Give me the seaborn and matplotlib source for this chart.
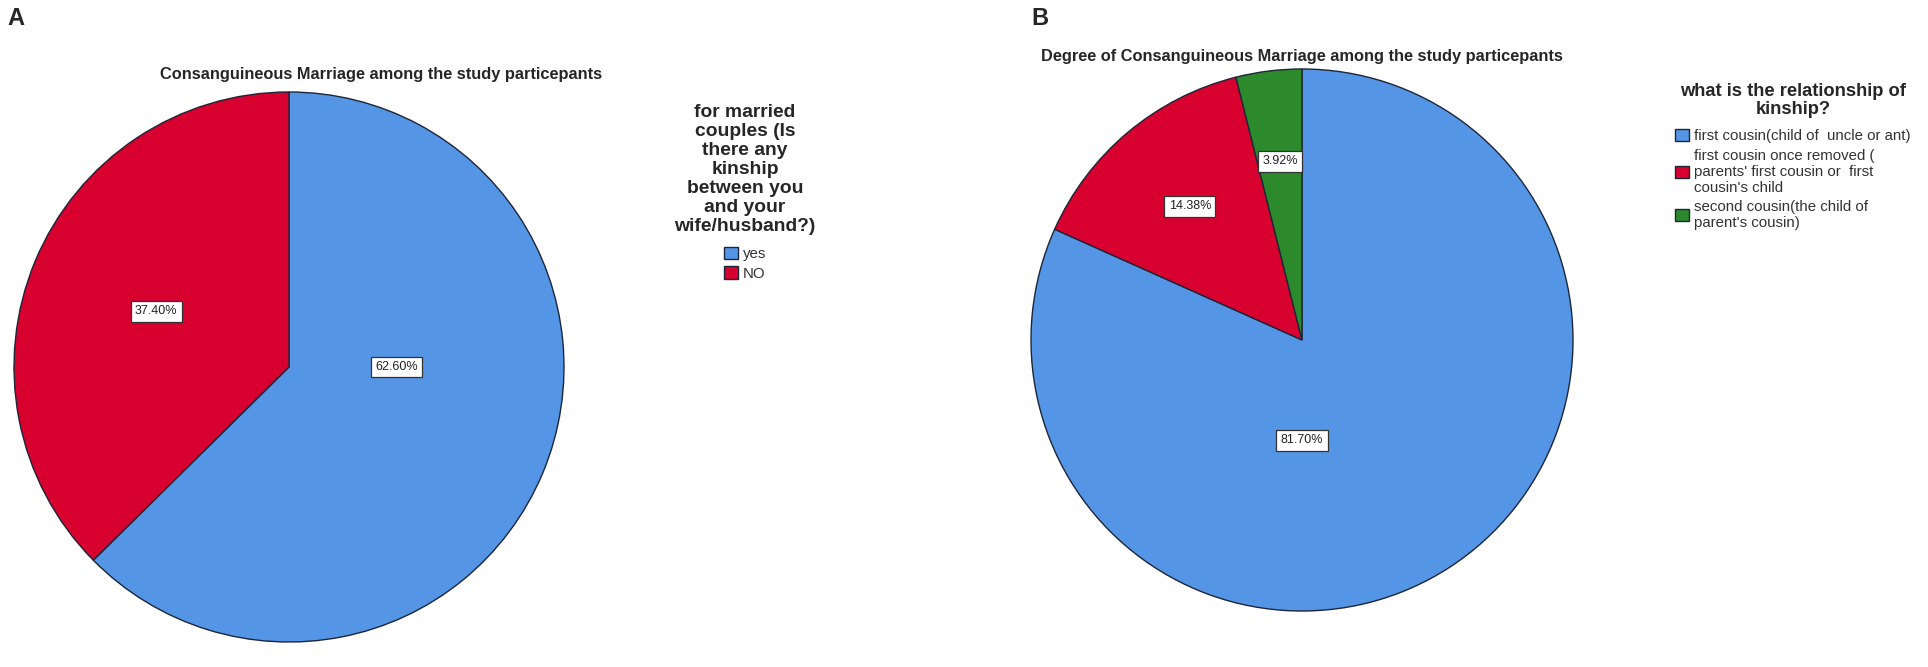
import numpy as np
import seaborn as sns
import matplotlib.pyplot as plt
from matplotlib.patches import Patch

sns.set_theme(style='white')
plt.rcParams['font.family'] = ['Liberation Sans', 'DejaVu Sans']

# panel A data
labels_a = ['yes', 'NO']
values_a = [62.60, 37.40]
title_a = 'Consanguineous Marriage among the study particepants'
legend_title_a = 'for married\ncouples (Is\nthere any\nkinship\nbetween you\nand your\nwife/husband?)'

# panel B data
labels_b = ['first cousin(child of  uncle or ant)',
            "first cousin once removed (\nparents' first cousin or  first\ncousin's child",
            "second cousin(the child of\nparent's cousin)"]
values_b = [81.70, 14.38, 3.92]
title_b = 'Degree of Consanguineous Marriage among the study particepants'
legend_title_b = 'what is the relationship of\nkinship?'

colors = sns.color_palette(['#5595E5', '#D8002F', '#2C892C'])
edge = '#1c2638'

W, H = 1928, 667
fig = plt.figure(figsize=(W / 100, H / 100), dpi=100)
fig.patch.set_facecolor('white')


def pie_axes(cx, cy, r):
    ax = fig.add_axes([(cx - r) / W, 1 - (cy + r) / H, 2 * r / W, 2 * r / H])
    return ax


def draw_pie(ax, values, big_label_place):
    wedges, _ = ax.pie(values, colors=colors[:len(values)], startangle=90, counterclock=False,
                       radius=1, wedgeprops=dict(edgecolor=edge, linewidth=1.0))
    ax.set_xlim(-1, 1)
    ax.set_ylim(-1, 1)
    ax.set_aspect('equal')
    ax.axis('off')
    for i, (w, v) in enumerate(zip(wedges, values)):
        if i in big_label_place:
            ang, rr = big_label_place[i]
        else:
            # centroid of the sector
            ang = (w.theta1 + w.theta2) / 2
            half = np.radians(w.theta2 - w.theta1) / 2
            rr = 2 * np.sin(half) / (3 * half)
        x, y = rr * np.cos(np.radians(ang)), rr * np.sin(np.radians(ang))
        ax.text(x, y, f'{v:.2f}%', ha='center', va='center', fontsize=9, color='#222222',
                bbox=dict(boxstyle='square,pad=0.35', fc='white', ec='#333333', lw=0.9))
    return wedges


def add_legend(labels, title, cx, top, title_size, title_ls):
    handles = [Patch(facecolor=colors[i], edgecolor=edge, linewidth=1.0) for i in range(len(labels))]
    leg = fig.legend(handles, labels, title=title, loc='upper center',
                     bbox_to_anchor=(cx / W, 1 - top / H), frameon=False,
                     fontsize=10.8, title_fontproperties=dict(weight='bold', size=title_size),
                     handlelength=0.95, handleheight=0.9, handletextpad=0.35,
                     labelspacing=0.35, borderpad=0, borderaxespad=0)
    leg.get_title().set_multialignment('center')
    leg.get_title().set_linespacing(title_ls)
    leg._legend_box.sep = 8
    for t in leg.get_texts():
        t.set_color('#333333')
        t.set_linespacing(1.18)
    return leg


ax_a = pie_axes(289, 367, 275)
draw_pie(ax_a, values_a, {0: (0, 0.39)})
ax_b = pie_axes(1302, 340, 271)
draw_pie(ax_b, values_b, {0: (-90, 0.37)})

fig.text(160 / W, 1 - 74 / H, title_a, ha='left', va='center', fontsize=11.8, fontweight='bold')
fig.text(1302 / W, 1 - 57 / H, title_b, ha='center', va='center', fontsize=11.8, fontweight='bold')

add_legend(labels_a, legend_title_a, 745, 104, 13.9, 1.16)
add_legend(labels_b, legend_title_b, 1793, 83, 13.2, 1.06)

fig.text(7 / W, 1 - 7 / H, 'A', ha='left', va='top', fontsize=17, fontweight='bold')
fig.text(1031 / W, 1 - 7 / H, 'B', ha='left', va='top', fontsize=17, fontweight='bold')

fig.savefig('out.png', dpi=100)
